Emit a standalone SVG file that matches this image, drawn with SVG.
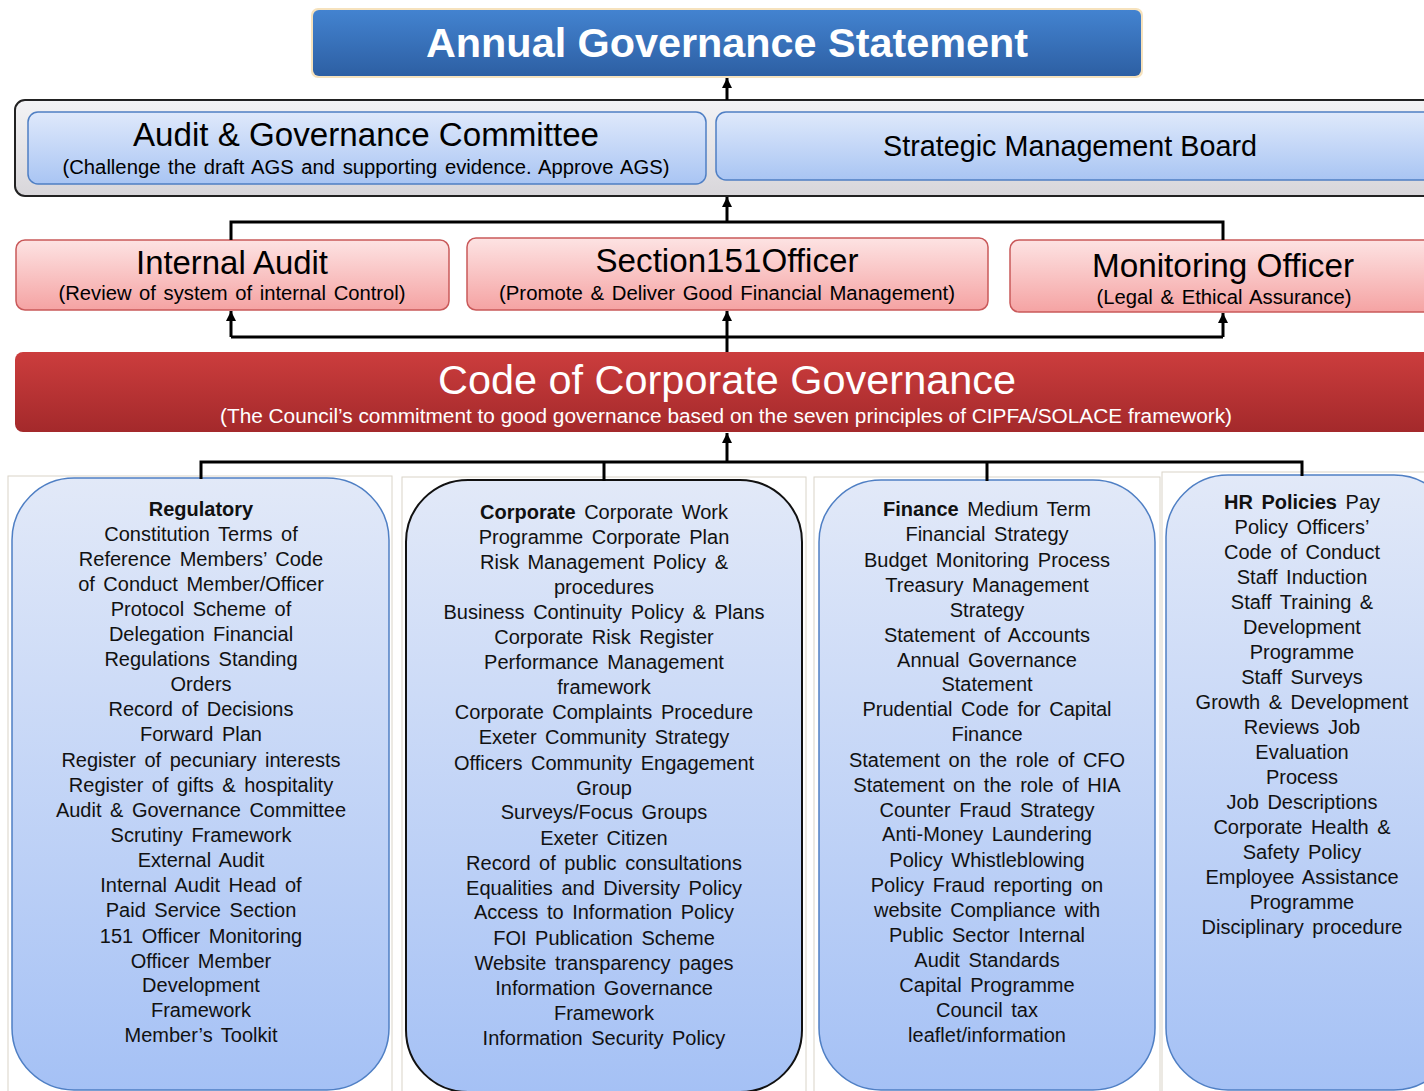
<svg xmlns="http://www.w3.org/2000/svg" width="1424" height="1091" viewBox="0 0 1424 1091">
<defs>
<linearGradient id="gTitle" x1="0" y1="0" x2="0" y2="1"><stop offset="0" stop-color="#4383d0"/><stop offset="1" stop-color="#2d5fa3"/></linearGradient>
<linearGradient id="gLight" x1="0" y1="0" x2="0" y2="1"><stop offset="0" stop-color="#dfe9fb"/><stop offset="1" stop-color="#a9c5f3"/></linearGradient>
<linearGradient id="gPink" x1="0" y1="0" x2="0" y2="1"><stop offset="0" stop-color="#fde3e3"/><stop offset="1" stop-color="#f5a3a3"/></linearGradient>
<linearGradient id="gRed" x1="0" y1="0" x2="0" y2="1"><stop offset="0" stop-color="#cc3d3d"/><stop offset="1" stop-color="#a4292b"/></linearGradient>
<linearGradient id="gBox" x1="0" y1="0" x2="0" y2="1"><stop offset="0" stop-color="#e2e9f8"/><stop offset="1" stop-color="#a5c1f5"/></linearGradient>
<linearGradient id="gFrame" x1="0" y1="0" x2="0" y2="1"><stop offset="0" stop-color="#f3f3f5"/><stop offset="1" stop-color="#d8d6da"/></linearGradient>
<marker id="arr" viewBox="0 0 10 10" refX="10" refY="5" markerWidth="12" markerHeight="10" markerUnits="userSpaceOnUse" orient="auto"><path d="M0,0 L10,5 L0,10 z" fill="#000"/></marker>
</defs>
<style>
text{font-family:"Liberation Sans",Arial,sans-serif;text-anchor:middle}
.body text{font-size:20px;fill:#111;word-spacing:3px}
.b{font-weight:bold}
.hd{fill:#000}
.sub{font-size:20px;fill:#000;word-spacing:2px}
.wh{fill:#fff}
.conn line,.conn path{stroke:#000;stroke-width:3;fill:none}
.card{fill:#fff;stroke:#d9d4c8;stroke-width:1}
</style>
<rect width="1424" height="1091" fill="#fff"/>

<g id="ags">
<rect x="311" y="8" width="832" height="70" rx="7" fill="#f6e2bd"/>
<rect x="313" y="10" width="828" height="66" rx="6" fill="url(#gTitle)"/>
<text x="727" y="57" class="b wh" font-size="40" textLength="602" lengthAdjust="spacingAndGlyphs">Annual Governance Statement</text>
</g>

<g id="frame">
<rect x="15" y="100" width="1430" height="96" rx="10" fill="url(#gFrame)" stroke="#222" stroke-width="2"/>
</g>

<g id="agc">
<rect x="28" y="112" width="678" height="72" rx="10" fill="url(#gLight)" stroke="#4f7fc4" stroke-width="1.5"/>
<text x="366" y="146" class="hd" font-size="34" textLength="466" lengthAdjust="spacingAndGlyphs">Audit &amp; Governance Committee</text>
<text x="366" y="174" class="sub" textLength="607" lengthAdjust="spacingAndGlyphs">(Challenge the draft AGS and supporting evidence. Approve AGS)</text>
</g>

<g id="smb">
<rect x="716" y="112" width="730" height="68" rx="10" fill="url(#gLight)" stroke="#4f7fc4" stroke-width="1.5"/>
<text x="1070" y="156" class="hd" font-size="29" textLength="374" lengthAdjust="spacingAndGlyphs">Strategic Management Board</text>
</g>

<g id="ia">
<rect x="16" y="240" width="433" height="70" rx="9" fill="url(#gPink)" stroke="#c9595a" stroke-width="1.5"/>
<text x="232" y="274" class="hd" font-size="33" textLength="192" lengthAdjust="spacingAndGlyphs">Internal Audit</text>
<text x="232" y="300" class="sub" textLength="347" lengthAdjust="spacingAndGlyphs">(Review of system of internal Control)</text>
</g>

<g id="s151">
<rect x="467" y="238" width="521" height="72" rx="9" fill="url(#gPink)" stroke="#c9595a" stroke-width="1.5"/>
<text x="727" y="272" class="hd" font-size="33" textLength="263" lengthAdjust="spacingAndGlyphs">Section151Officer</text>
<text x="727" y="300" class="sub" textLength="456" lengthAdjust="spacingAndGlyphs">(Promote &amp; Deliver Good Financial Management)</text>
</g>

<g id="mo">
<rect x="1010" y="240" width="440" height="72" rx="9" fill="url(#gPink)" stroke="#c9595a" stroke-width="1.5"/>
<text x="1223" y="277" class="hd" font-size="33" textLength="262" lengthAdjust="spacingAndGlyphs">Monitoring Officer</text>
<text x="1224" y="304" class="sub" textLength="255" lengthAdjust="spacingAndGlyphs">(Legal &amp; Ethical Assurance)</text>
</g>

<g id="ccg">
<rect x="15" y="352" width="1430" height="80" rx="8" fill="url(#gRed)"/>
<text x="727" y="394" class="wh" font-size="40" textLength="578" lengthAdjust="spacingAndGlyphs">Code of Corporate Governance</text>
<text x="726" y="423" class="wh" font-size="20" textLength="1012" lengthAdjust="spacingAndGlyphs">(The Council’s commitment to good governance based on the seven principles of CIPFA/SOLACE framework)</text>
</g>

<g id="cards">
<rect x="8" y="476" width="384" height="620" class="card"/>
<rect x="402" y="477" width="404" height="620" class="card"/>
<rect x="814" y="477" width="346" height="620" class="card"/>
<rect x="1162" y="472" width="270" height="625" class="card"/>
</g>

<g id="regulatory" class="body">
<rect x="12" y="478" width="377" height="612" rx="62" fill="url(#gBox)" stroke="#4f7fc4" stroke-width="1.5"/>
<text x="201" y="516" class="b">Regulatory</text>
<text x="201" y="541">Constitution Terms of</text>
<text x="201" y="566">Reference Members’ Code</text>
<text x="201" y="591">of Conduct Member/Officer</text>
<text x="201" y="616">Protocol Scheme of</text>
<text x="201" y="641">Delegation Financial</text>
<text x="201" y="666">Regulations Standing</text>
<text x="201" y="691">Orders</text>
<text x="201" y="716">Record of Decisions</text>
<text x="201" y="741">Forward Plan</text>
<text x="201" y="767">Register of pecuniary interests</text>
<text x="201" y="792">Register of gifts &amp; hospitality</text>
<text x="201" y="817">Audit &amp; Governance Committee</text>
<text x="201" y="842">Scrutiny Framework</text>
<text x="201" y="867">External Audit</text>
<text x="201" y="892">Internal Audit Head of</text>
<text x="201" y="917">Paid Service Section</text>
<text x="201" y="943">151 Officer Monitoring</text>
<text x="201" y="968">Officer Member</text>
<text x="201" y="992">Development</text>
<text x="201" y="1017">Framework</text>
<text x="201" y="1042">Member’s Toolkit</text>
</g>

<g id="corporate" class="body">
<rect x="406" y="480" width="396" height="612" rx="62" fill="url(#gBox)" stroke="#111" stroke-width="2"/>
<text x="604" y="519"><tspan class="b">Corporate</tspan> Corporate Work</text>
<text x="604" y="544">Programme Corporate Plan</text>
<text x="604" y="569">Risk Management Policy &amp;</text>
<text x="604" y="594">procedures</text>
<text x="604" y="619">Business Continuity Policy &amp; Plans</text>
<text x="604" y="644">Corporate Risk Register</text>
<text x="604" y="669">Performance Management</text>
<text x="604" y="694">framework</text>
<text x="604" y="719">Corporate Complaints Procedure</text>
<text x="604" y="744">Exeter Community Strategy</text>
<text x="604" y="770">Officers Community Engagement</text>
<text x="604" y="795">Group</text>
<text x="604" y="819">Surveys/Focus Groups</text>
<text x="604" y="845">Exeter Citizen</text>
<text x="604" y="870">Record of public consultations</text>
<text x="604" y="895">Equalities and Diversity Policy</text>
<text x="604" y="919">Access to Information Policy</text>
<text x="604" y="945">FOI Publication Scheme</text>
<text x="604" y="970">Website transparency pages</text>
<text x="604" y="995">Information Governance</text>
<text x="604" y="1020">Framework</text>
<text x="604" y="1045">Information Security Policy</text>
</g>

<g id="finance" class="body">
<rect x="819" y="480" width="336" height="610" rx="62" fill="url(#gBox)" stroke="#4f7fc4" stroke-width="1.5"/>
<text x="987" y="516"><tspan class="b">Finance</tspan> Medium Term</text>
<text x="987" y="541">Financial Strategy</text>
<text x="987" y="567">Budget Monitoring Process</text>
<text x="987" y="592">Treasury Management</text>
<text x="987" y="617">Strategy</text>
<text x="987" y="642">Statement of Accounts</text>
<text x="987" y="667">Annual Governance</text>
<text x="987" y="691">Statement</text>
<text x="987" y="716">Prudential Code for Capital</text>
<text x="987" y="741">Finance</text>
<text x="987" y="767">Statement on the role of CFO</text>
<text x="987" y="792">Statement on the role of HIA</text>
<text x="987" y="817">Counter Fraud Strategy</text>
<text x="987" y="841">Anti-Money Laundering</text>
<text x="987" y="867">Policy Whistleblowing</text>
<text x="987" y="892">Policy Fraud reporting on</text>
<text x="987" y="917">website Compliance with</text>
<text x="987" y="942">Public Sector Internal</text>
<text x="987" y="967">Audit Standards</text>
<text x="987" y="992">Capital Programme</text>
<text x="987" y="1017">Council tax</text>
<text x="987" y="1042">leaflet/information</text>
</g>

<g id="hr" class="body">
<rect x="1166" y="475" width="290" height="615" rx="62" fill="url(#gBox)" stroke="#4f7fc4" stroke-width="1.5"/>
<text x="1302" y="509"><tspan class="b">HR Policies</tspan> Pay</text>
<text x="1302" y="534">Policy Officers’</text>
<text x="1302" y="559">Code of Conduct</text>
<text x="1302" y="584">Staff Induction</text>
<text x="1302" y="609">Staff Training &amp;</text>
<text x="1302" y="634">Development</text>
<text x="1302" y="659">Programme</text>
<text x="1302" y="684">Staff Surveys</text>
<text x="1302" y="709">Growth &amp; Development</text>
<text x="1302" y="734">Reviews Job</text>
<text x="1302" y="759">Evaluation</text>
<text x="1302" y="784">Process</text>
<text x="1302" y="809">Job Descriptions</text>
<text x="1302" y="834">Corporate Health &amp;</text>
<text x="1302" y="859">Safety Policy</text>
<text x="1302" y="884">Employee Assistance</text>
<text x="1302" y="909">Programme</text>
<text x="1302" y="934">Disciplinary procedure</text>
</g>

<g id="connectors" class="conn">
<line x1="727" y1="100" x2="727" y2="78" marker-end="url(#arr)"/>
<line x1="727" y1="222" x2="727" y2="197" marker-end="url(#arr)"/>
<path d="M231,240 V222 H1223 V240"/>
<path d="M231,337 H1223"/>
<line x1="231" y1="337" x2="231" y2="311" marker-end="url(#arr)"/>
<line x1="727" y1="337" x2="727" y2="311" marker-end="url(#arr)"/>
<line x1="1223" y1="337" x2="1223" y2="313" marker-end="url(#arr)"/>
<line x1="727" y1="352" x2="727" y2="337"/>
<line x1="727" y1="462" x2="727" y2="433" marker-end="url(#arr)"/>
<path d="M201,479 V462 H1302 V476"/>
<line x1="604" y1="462" x2="604" y2="481"/>
<line x1="987" y1="462" x2="987" y2="481"/>
</g>
</svg>
